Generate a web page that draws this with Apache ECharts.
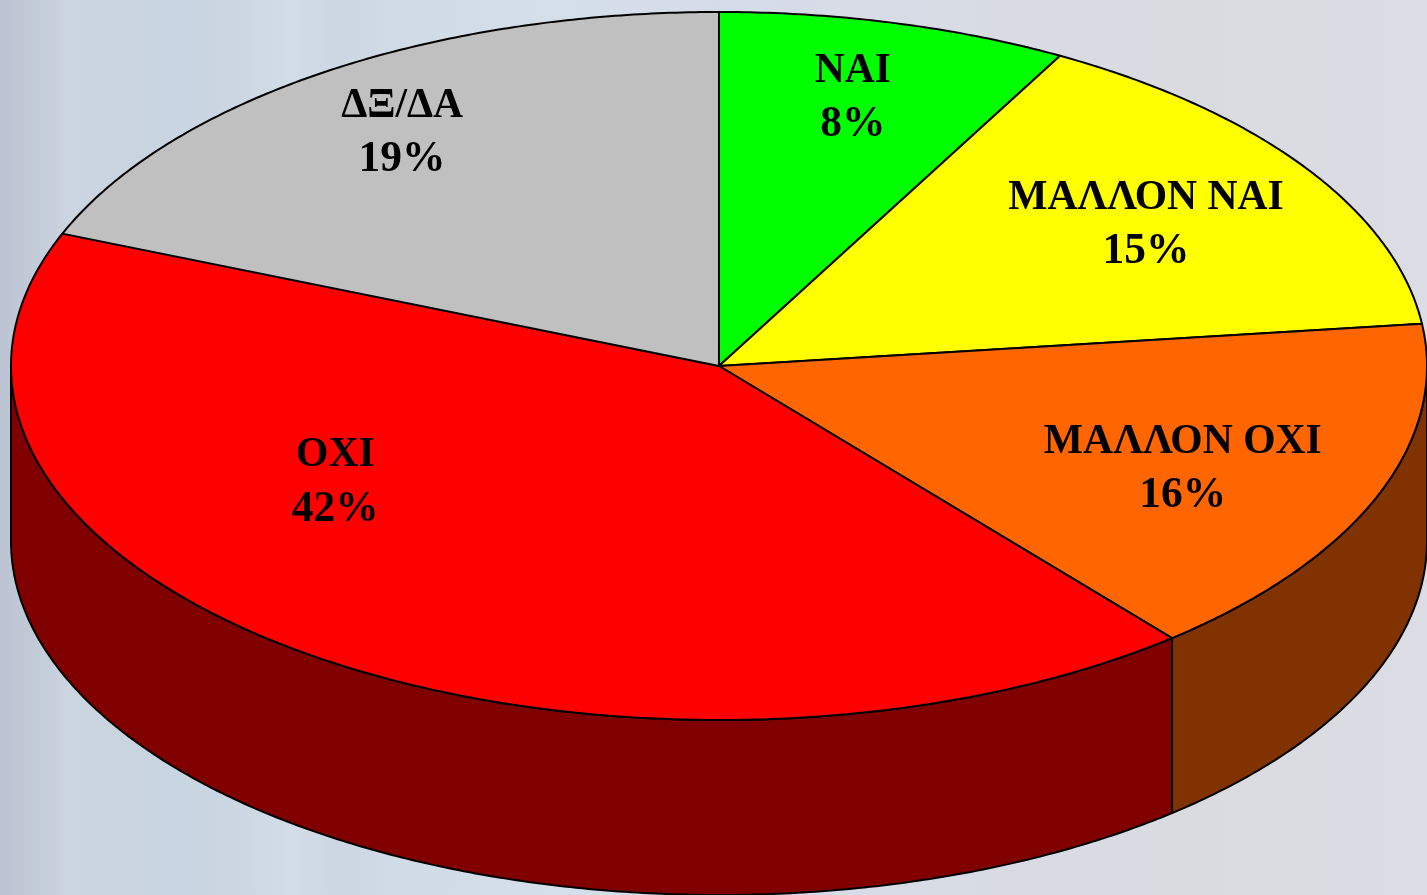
<!DOCTYPE html>
<html>
<head>
<meta charset="utf-8">
<style>
html,body{margin:0;padding:0;width:100%;height:100%;overflow:hidden;}
#main{width:1427px;height:895px;}
</style>
<script src="https://cdn.jsdelivr.net/npm/echarts@6/dist/echarts.min.js"></script>
</head>
<body>
<div id="main"></div>
<script>
// data (the picture prints them rounded)
var names = ['ΝΑΙ', 'ΜΑΛΛΟΝ ΝΑΙ', 'ΜΑΛΛΟΝ ΟΧΙ', 'ΟΧΙ', 'ΔΞ/ΔΑ'];
var values = [8, 15.1, 15.85, 42.15, 18.9];
// colours
var topColors = ['#00ff00', '#ffff00', '#ff6600', '#ff0000', '#c0c0c0'];
var sideColors = ['#008000', '#808000', '#803300', '#800000', '#606060'];
// label place inside each slice: fraction of the radius along the mid angle
var labelRadiusX = [0.76, 0.7275, 0.705, 0.92, 0.80];
var labelRadiusY = [0.781, 0.712, 0.788, 0.407, 0.794];

// ellipse
var cx = 719, cy = 366, rx = 708, ry = 354, depth = 175;

var total = values.reduce(function (a, b) { return a + b; }, 0);
var starts = [];
values.reduce(function (sum, v, i) { starts[i] = sum; return sum + v; }, 0);

function rim(deg, extra) {
	var r = deg * Math.PI / 180;
	return [cx + rx * Math.sin(r), cy - ry * Math.cos(r) + (extra || 0)];
}
function arc(from, to, extra) {
	var pts = [];
	var n = Math.max(2, Math.ceil(Math.abs(to - from) * 2));
	for (var i = 0; i <= n; i++) {
		pts.push(rim(from + (to - from) * i / n, extra));
	}
	return pts;
}

function renderSlice(params, api) {
	var i = params.dataIndex;
	var v = api.value(0);
	var a0 = starts[i] / total * 360;
	var a1 = (starts[i] + v) / total * 360;
	var mid = (a0 + a1) / 2 * Math.PI / 180;
	var children = [];
	// side wall, only the front half of the rim shows
	var s0 = Math.max(a0, 90), s1 = Math.min(a1, 270);
	if (s1 > s0) {
		children.push({
			type: 'polygon',
			z2: 1,
			shape: { points: arc(s0, s1, 0).concat(arc(s1, s0, depth)) },
			style: { fill: sideColors[i], stroke: '#000', lineWidth: 2, lineJoin: 'round' }
		});
	}
	// top face
	children.push({
		type: 'polygon',
		z2: 2,
		shape: { points: [[cx, cy]].concat(arc(a0, a1, 0)) },
		style: { fill: topColors[i], stroke: '#000', lineWidth: 2, lineJoin: 'round' }
	});
	// label
	children.push({
		type: 'text',
		z2: 3,
		style: {
			x: cx + rx * labelRadiusX[i] * Math.sin(mid),
			y: cy - ry * labelRadiusY[i] * Math.cos(mid),
			text: '{n|' + names[i] + '}\n{p|' + Math.round(v) + '%}',
			align: 'center',
			verticalAlign: 'middle',
			fill: '#000',
			rich: {
				n: { fontFamily: 'Liberation Serif', fontWeight: 'bold', fontSize: 41.6, lineHeight: 54, fill: '#000' },
				p: { fontFamily: 'Liberation Serif', fontWeight: 'bold', fontSize: 43.5, lineHeight: 54, fill: '#000' }
			}
		}
	});
	return { type: 'group', children: children };
}

var chart = echarts.init(document.getElementById('main'));
var option = {
	animation: false,
	backgroundColor: {
		type: 'linear', x: 0, y: 0, x2: 1, y2: 0,
		colorStops: [
			{ offset: 0, color: '#bcc3d2' },
			{ offset: 0.03, color: '#c4cdda' },
			{ offset: 0.05, color: '#ccd6e0' },
			{ offset: 0.08, color: '#c9d4df' },
			{ offset: 0.115, color: '#c8d4e1' },
			{ offset: 0.16, color: '#cbd6e2' },
			{ offset: 0.205, color: '#d2dde7' },
			{ offset: 0.235, color: '#cdd7e4' },
			{ offset: 0.28, color: '#d0dbe6' },
			{ offset: 0.39, color: '#d4dfe9' },
			{ offset: 0.5, color: '#d5dce8' },
			{ offset: 0.7, color: '#d8dbe4' },
			{ offset: 0.85, color: '#dadbe0' },
			{ offset: 1, color: '#dcdde4' }
		]
	},
	series: [
		{
			type: 'custom',
			coordinateSystem: 'none',
			renderItem: renderSlice,
			data: values.map(function (v, i) { return { name: names[i], value: [v] }; })
		}
	]
};
chart.setOption(option);
</script>
</body>
</html>
